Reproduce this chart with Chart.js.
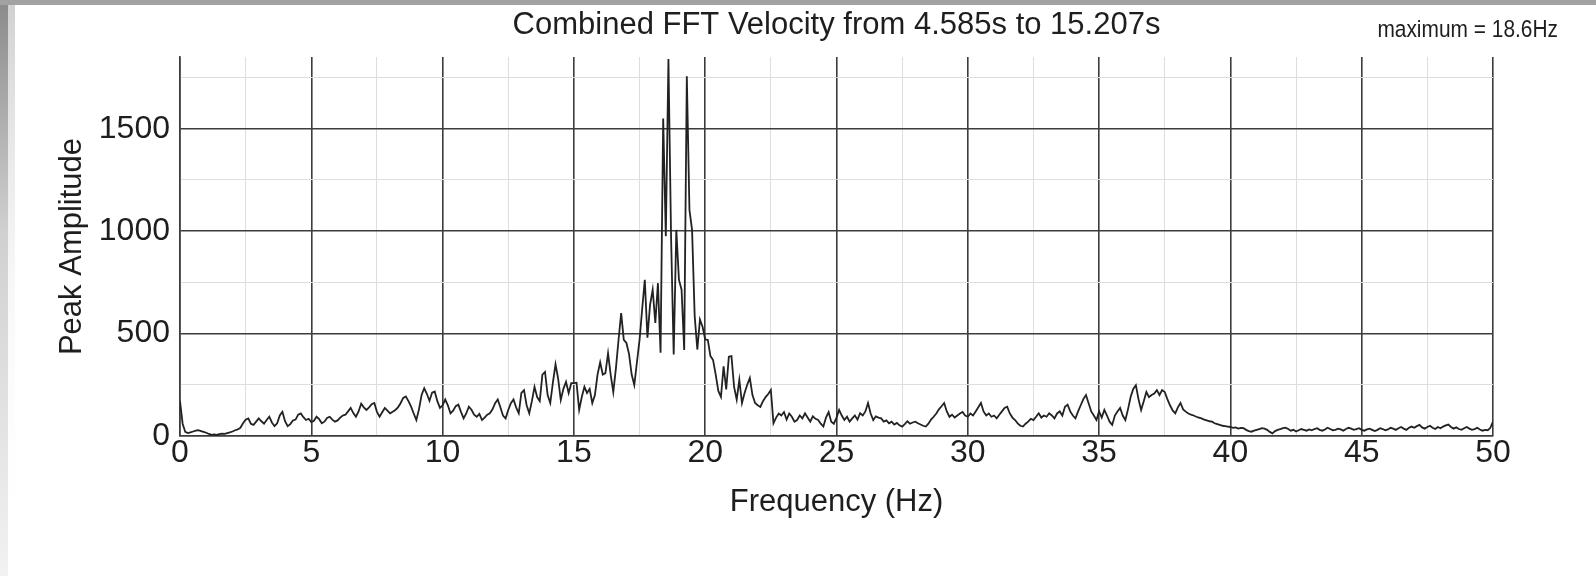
<!DOCTYPE html>
<html>
<head>
<meta charset="utf-8">
<title>Combined FFT Velocity</title>
<script src="https://cdn.jsdelivr.net/npm/chart.js@4.4.1/dist/chart.umd.min.js"></script>
<style>
  html, body { margin: 0; padding: 0; background: #fff; }
  #wrap { width: 1596px; height: 576px; }
</style>
</head>
<body>
<div id="wrap"><canvas id="fft-chart" width="1596" height="576"></canvas></div>
<script>
// FFT bin spacing (Hz) and peak amplitude per bin, split into 10 Hz bands
const binHz = 0.1;

const amp0to10 = [
  170, 60, 20, 14, 18, 22, 26, 28, 24, 20,
  16, 10, 6, 8, 5, 9, 12, 10, 14, 18,
  22, 28, 32, 40, 62, 80, 86, 60, 54, 70,
  86, 72, 60, 78, 94, 66, 48, 62, 100, 118,
  72, 48, 58, 76, 80, 104, 110, 92, 78, 84,
  68, 74, 94, 82, 62, 70, 88, 94, 80, 70,
  76, 90, 100, 104, 120, 137, 112, 94, 120, 158,
  140, 127, 140, 155, 161, 118, 94, 116, 137, 124,
  111, 118, 127, 140, 160, 186, 193, 170, 143, 110,
  78, 130, 200, 233, 206, 172, 212, 217, 170, 137
];

const amp10to20 = [
  150, 178, 150, 111, 124, 146, 153, 118, 86, 110,
  143, 128, 104, 94, 108, 78, 90, 104, 111, 130,
  160, 178, 140, 100, 86, 127, 160, 178, 140, 111,
  210, 224, 150, 111, 170, 240, 190, 170, 300, 313,
  200, 161, 260, 350, 280, 176, 230, 264, 210, 258,
  258, 260, 127, 190, 240, 210, 230, 161, 200, 300,
  360, 300, 307, 404, 300, 215, 330, 470, 600, 469,
  454, 400, 300, 249, 360, 469, 620, 762, 480, 640,
  714, 552, 746, 406, 1550, 975, 1840, 974, 398, 1006,
  763, 714, 420, 1756, 1104, 1006, 584, 422, 568, 533
];

const amp20to30 = [
  471, 469, 390, 371, 300, 220, 191, 340, 227, 387,
  390, 240, 178, 274, 161, 210, 250, 283, 200, 161,
  150, 142, 170, 190, 205, 225, 62, 90, 110, 100,
  117, 80, 110, 94, 70, 78, 100, 86, 111, 90,
  70, 96, 84, 78, 60, 46, 90, 117, 70, 60,
  90, 127, 100, 78, 94, 70, 86, 100, 80, 111,
  100, 120, 161, 110, 78, 96, 90, 86, 70, 76,
  62, 70, 56, 64, 52, 46, 58, 72, 60, 66,
  70, 62, 56, 50, 46, 60, 80, 94, 110, 130,
  145, 161, 120, 94, 104, 90, 100, 110, 117, 100
];

const amp30to40 = [
  94, 110, 100, 120, 140, 161, 120, 100, 110, 94,
  100, 86, 104, 120, 137, 143, 110, 90, 78, 62,
  50, 46, 60, 70, 84, 78, 94, 111, 90, 100,
  94, 111, 100, 86, 110, 120, 100, 143, 153, 120,
  100, 86, 120, 150, 180, 200, 160, 120, 100, 78,
  120, 90, 127, 100, 70, 54, 100, 120, 137, 100,
  78, 130, 190, 230, 248, 180, 127, 170, 215, 190,
  200, 207, 224, 200, 224, 215, 180, 150, 125, 111,
  140, 161, 130, 119, 110, 104, 100, 94, 90, 86,
  80, 76, 72, 70, 62, 58, 54, 50, 48, 46
];

const amp40to50 = [
  44, 40, 42, 36, 40, 38, 30, 24, 21, 26,
  30, 34, 38, 36, 30, 20, 13, 24, 30, 34,
  38, 41, 34, 26, 30, 22, 28, 34, 30, 26,
  32, 28, 34, 38, 30, 26, 32, 40, 34, 28,
  30, 36, 32, 26, 34, 40, 36, 30, 34, 38,
  30, 26, 32, 36, 30, 24, 30, 38, 34, 28,
  32, 40, 36, 30, 38, 44, 36, 30, 40, 46,
  40, 48, 54, 42, 36, 44, 50, 40, 34, 44,
  38, 46, 52, 56, 44, 36, 42, 34, 30, 38,
  44, 36, 30, 34, 40, 32, 26, 30, 28, 40,
  70
];

const bandStarts = [0, 10, 20, 30, 40];
const freqTicks = [0, 5, 10, 15, 20, 25, 30, 35, 40, 45, 50];
const ampTicks = [0, 500, 1000, 1500];
const chartTitle = 'Combined FFT Velocity from 4.585s to 15.207s';

const MAJOR_GRID = '#3c3c3c';
const MINOR_GRID = '#dedede';
const TEXT_COLOR = '#1e1e1e';

// Turn the bands into {x, y} points
function buildPoints() {
  const bands = [amp0to10, amp10to20, amp20to30, amp30to40, amp40to50];
  const points = [];
  bands.forEach((band, b) => {
    band.forEach((value, i) => {
      const f = Math.round((bandStarts[b] + i * binHz) * 10) / 10;
      points.push({ x: f, y: value });
    });
  });
  return points;
}

const fftPoints = buildPoints();
const peakPoint = fftPoints.reduce((best, p) => (p.y > best.y ? p : best));

Chart.defaults.font.family = '"Liberation Sans", Arial, sans-serif';
Chart.defaults.color = TEXT_COLOR;

// White page with the grey scan edge on top and left
const pageFrame = {
  id: 'pageFrame',
  beforeDraw(chart) {
    const { ctx, width, height } = chart;
    ctx.save();
    ctx.fillStyle = '#ffffff';
    ctx.fillRect(0, 0, width, height);
    // left edge: dark at the top, fading out lower down
    const edge = ctx.createLinearGradient(0, 0, 0, height);
    edge.addColorStop(0, '#8a8a8a');
    edge.addColorStop(0.4, '#d0d0d0');
    edge.addColorStop(1, '#f2f2f2');
    ctx.fillStyle = edge;
    ctx.fillRect(0, 0, 8, height);
    const fade = ctx.createLinearGradient(0, 0, 0, height);
    fade.addColorStop(0, 'rgba(170,170,170,0.55)');
    fade.addColorStop(0.5, 'rgba(230,230,230,0.3)');
    fade.addColorStop(1, 'rgba(255,255,255,0)');
    ctx.fillStyle = fade;
    ctx.fillRect(8, 0, 7, height);
    ctx.fillStyle = '#a2a2a2';
    ctx.fillRect(0, 0, width, 5);
    ctx.restore();
  }
};

// "maximum = ..." note in the top right corner
const peakNote = {
  id: 'peakNote',
  afterDraw(chart) {
    const { ctx } = chart;
    ctx.save();
    ctx.font = '22px "Liberation Sans", Arial, sans-serif';
    ctx.fillStyle = TEXT_COLOR;
    ctx.textAlign = 'right';
    ctx.textBaseline = 'middle';
    ctx.translate(1558, 30);
    ctx.scale(0.95, 1.08);
    ctx.fillText('maximum = ' + peakPoint.x.toFixed(1) + 'Hz', 0, 0);
    ctx.restore();
  }
};

function isMajor(ctx, majorEvery) {
  const v = ctx.tick ? ctx.tick.value : 0;
  return Math.abs(v % majorEvery) < 1e-6;
}

const fftChart = new Chart(document.getElementById('fft-chart'), {
  type: 'line',
  data: {
    datasets: [{
      label: 'Peak Amplitude',
      data: fftPoints,
      borderColor: '#222222',
      borderWidth: 1.8,
      pointRadius: 0,
      tension: 0,
      fill: false
    }]
  },
  options: {
    responsive: false,
    animation: false,
    layout: { padding: { top: 0, right: 103, bottom: 0, left: 0 } },
    plugins: {
      legend: { display: false },
      tooltip: { enabled: false },
      title: {
        display: true,
        text: chartTitle,
        fullSize: false,
        color: TEXT_COLOR,
        font: { size: 31, weight: 'normal' },
        padding: { top: 7, bottom: 12.8 }
      }
    },
    scales: {
      x: {
        type: 'linear',
        min: 0,
        max: 50,
        afterFit(scale) { scale.height = 140; },
        ticks: {
          stepSize: 2.5,
          autoSkip: false,
          maxRotation: 0,
          padding: -2,
          font: { size: 32 },
          color: TEXT_COLOR,
          callback: v => (freqTicks.includes(v) ? String(v) : '')
        },
        grid: {
          drawTicks: false,
          color: ctx => (isMajor(ctx, 5) ? MAJOR_GRID : MINOR_GRID),
          lineWidth: ctx => (isMajor(ctx, 5) ? 1.6 : 1)
        },
        border: { display: true, color: MAJOR_GRID, width: 1.6 },
        title: {
          display: true,
          text: 'Frequency (Hz)',
          color: TEXT_COLOR,
          font: { size: 31 },
          padding: { top: 0, bottom: 55 }
        }
      },
      y: {
        type: 'linear',
        min: 0,
        max: 1850,
        afterFit(scale) { scale.width = 180; },
        ticks: {
          stepSize: 250,
          includeBounds: false,
          padding: 10,
          font: { size: 32 },
          color: TEXT_COLOR,
          callback: v => (ampTicks.includes(v) ? String(v) : '')
        },
        grid: {
          drawTicks: false,
          color: ctx => (isMajor(ctx, 500) ? MAJOR_GRID : MINOR_GRID),
          lineWidth: ctx => (isMajor(ctx, 500) ? 1.6 : 1)
        },
        border: { display: true, color: MAJOR_GRID, width: 1.6 },
        title: {
          display: true,
          text: 'Peak Amplitude',
          color: TEXT_COLOR,
          font: { size: 31 },
          padding: { top: 54, bottom: 0 }
        }
      }
    }
  },
  plugins: [pageFrame, peakNote]
});
</script>
</body>
</html>
